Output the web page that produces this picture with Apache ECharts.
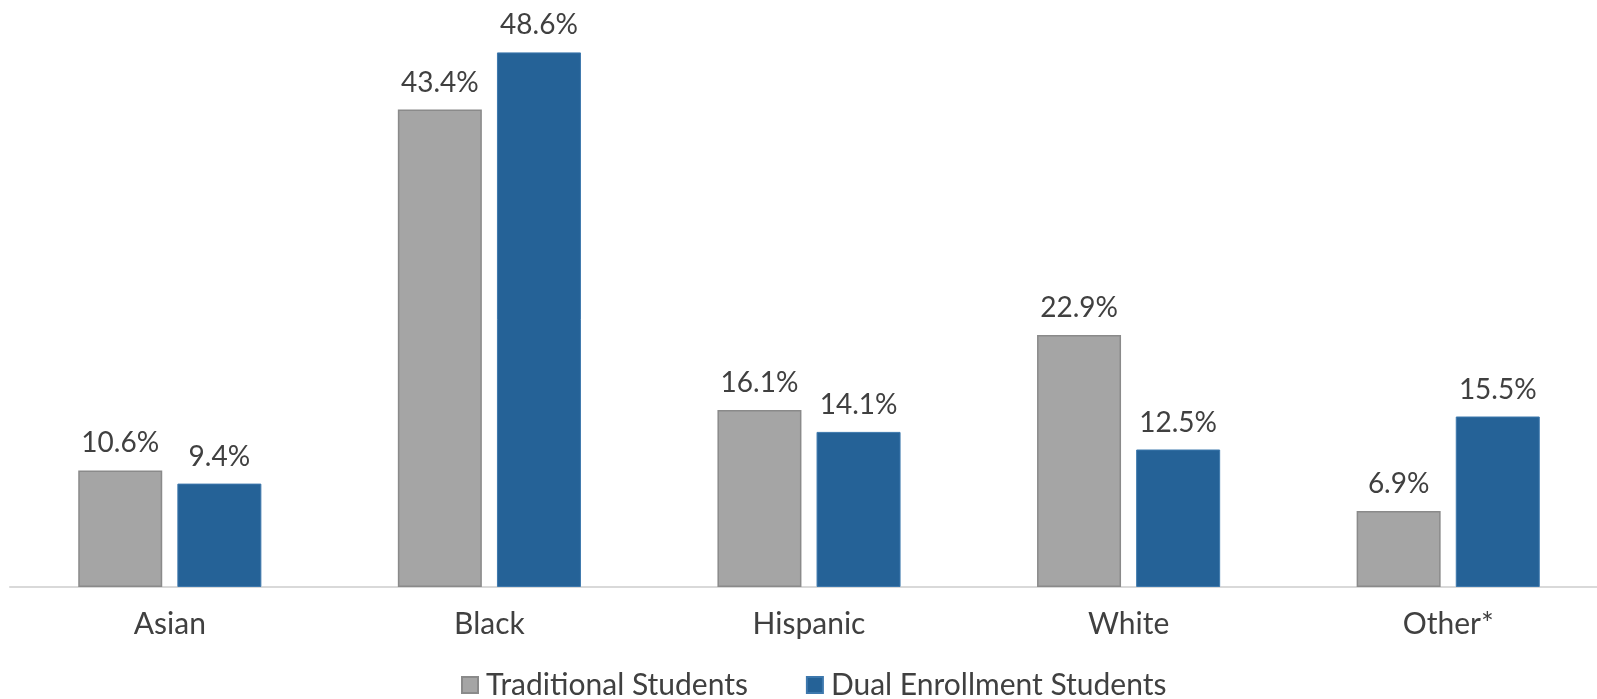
<!DOCTYPE html>
<html>
<head>
<meta charset="utf-8">
<script src="https://cdn.jsdelivr.net/npm/echarts@6/dist/echarts.min.js"></script>
<style>
html,body{margin:0;padding:0;background:#fff;}
#chart{width:1597px;height:699px;}
</style>
</head>
<body>
<div id="chart"></div>
<script>
var categories = ['Asian', 'Black', 'Hispanic', 'White', 'Other*'];
var traditional = [10.6, 43.4, 16.1, 22.9, 6.9];
var dual = [9.4, 48.6, 14.1, 12.5, 15.5];
var seriesNames = ['Traditional Students', 'Dual Enrollment Students'];

var FONT = 'Lato, sans-serif';
var chart = echarts.init(document.getElementById('chart'), null, {renderer: 'canvas'});
var labelOpt = {
  show: true,
  position: 'top',
  distance: 13,
  color: '#404040',
  fontSize: 28,
  fontFamily: FONT,
  formatter: function (p) { return p.value.toFixed(1) + '%'; }
};
chart.setOption({
  animation: false,
  backgroundColor: '#ffffff',
  grid: {left: 10, width: 1598, top: 37, bottom: 112, containLabel: false, outerBoundsMode: 'none'},
  legend: {
    data: seriesNames,
    left: 456,
    top: 665,
    icon: 'rect',
    itemWidth: 16,
    itemHeight: 16,
    itemGap: 58,
    textStyle: {color: '#404040', fontSize: 30, fontFamily: FONT, padding: [0, 0, 0, 3]}
  },
  xAxis: {
    type: 'category',
    data: categories,
    axisLine: {show: true, lineStyle: {color: '#d9d9d9', width: 2}},
    axisTick: {show: false},
    axisLabel: {color: '#404040', fontSize: 30, fontFamily: FONT, margin: 22}
  },
  yAxis: {
    type: 'value',
    min: 0,
    max: 50,
    show: false,
    splitLine: {show: false}
  },
  series: [
    {
      name: seriesNames[0],
      type: 'bar',
      data: traditional,
      barWidth: 84,
      barGap: '18%',
      itemStyle: {color: '#a5a5a5', borderColor: '#8a8a8a', borderWidth: 1.5},
      label: labelOpt
    },
    {
      name: seriesNames[1],
      type: 'bar',
      data: dual,
      barWidth: 84,
      itemStyle: {color: '#256297', borderColor: '#3d78ad', borderWidth: 1},
      label: labelOpt
    }
  ]
});
</script>
</body>
</html>
